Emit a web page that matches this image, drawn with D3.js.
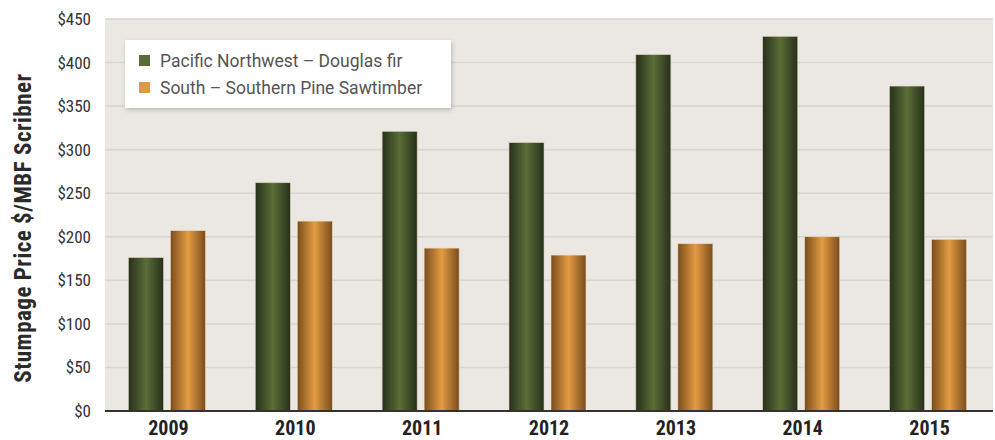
<!DOCTYPE html>
<html><head><meta charset="utf-8">
<script src="https://cdn.jsdelivr.net/npm/d3@7"></script>
<style>
body{margin:0;background:#fff;}
svg{display:block;}
</style></head>
<body>
<svg id="c" width="995" height="440"></svg>
<script>
const years = ["2009","2010","2011","2012","2013","2014","2015"];
const pacificNW = [176, 262, 321, 308, 409, 430, 373];
const southPine = [207, 218, 187, 179, 192, 200, 197];
const seriesNames = ["Pacific Northwest \u2013 Douglas fir", "South \u2013 Southern Pine Sawtimber"];
const yTicks = [0,50,100,150,200,250,300,350,400,450];

const COND = '"Liberation Sans Narrow","Roboto Condensed","DejaVu Sans Condensed",sans-serif';
const svg = d3.select("#c");
const m = {left:105, right:993, top:19, bottom:411};

const defs = svg.append("defs");
function grad(id, edge, mid){
  const g = defs.append("linearGradient").attr("id", id).attr("x1","0").attr("x2","1").attr("y1","0").attr("y2","0");
  g.append("stop").attr("offset","0%").attr("stop-color", edge);
  g.append("stop").attr("offset","50%").attr("stop-color", mid);
  g.append("stop").attr("offset","100%").attr("stop-color", edge);
}
grad("gGreen", "#27301a", "#5c6d36");
grad("gOrange", "#7a4c1c", "#e39c42");
const shadow = defs.append("filter").attr("id","sh").attr("x","-10%").attr("y","-20%").attr("width","130%").attr("height","150%");
shadow.append("feDropShadow").attr("dx",1).attr("dy",2).attr("stdDeviation",2).attr("flood-color","#000").attr("flood-opacity",0.2);

const x = d3.scaleBand().domain(years).range([m.left, m.right]);
const y = d3.scaleLinear().domain([0,450]).range([m.bottom, m.top]);

// panel
svg.append("rect").attr("x", m.left).attr("y", m.top).attr("width", m.right-m.left).attr("height", m.bottom-m.top).attr("fill","#ebe8e3");

// gridlines
svg.append("g").selectAll("line").data(yTicks.filter(d=>d>0)).join("line")
  .attr("x1", m.left).attr("x2", m.right)
  .attr("y1", d=>y(d)).attr("y2", d=>y(d))
  .attr("stroke","#d9d5cf").attr("stroke-width",1.5);

// y axis labels
const yAxis = d3.axisLeft(y).tickValues(yTicks).tickFormat(d=>"$"+d).tickSize(0).tickPadding(14);
const gy = svg.append("g").attr("transform",`translate(${m.left},0)`).call(yAxis);
gy.select(".domain").remove();
gy.attr("font-family", null).attr("font-size", null);
gy.selectAll("text").style("font-size","17px").style("fill","#333").style("font-family",COND);

// bars
const bw = 35, gap = 7;
const groups = svg.append("g").selectAll("g").data(years).join("g");
groups.append("rect")
  .attr("x", (d)=> x(d) + x.bandwidth()/2 - gap/2 - bw - 1.5)
  .attr("y", (d,i)=> y(pacificNW[i]))
  .attr("width", bw).attr("height", (d,i)=> m.bottom - y(pacificNW[i]))
  .attr("fill","url(#gGreen)").attr("stroke","#cfcab8").attr("stroke-width",0.6);
groups.append("rect")
  .attr("x", (d)=> x(d) + x.bandwidth()/2 + gap/2 - 1.5)
  .attr("y", (d,i)=> y(southPine[i]))
  .attr("width", bw).attr("height", (d,i)=> m.bottom - y(southPine[i]))
  .attr("fill","url(#gOrange)").attr("stroke","#e8d8bc").attr("stroke-width",0.6);

// x axis
const xAxis = d3.axisBottom(x).tickSize(0).tickPadding(8);
const gx = svg.append("g").attr("transform",`translate(0,${m.bottom})`).call(xAxis);
gx.select(".domain").attr("stroke","#333").attr("stroke-width",2).attr("d",`M${m.left},0H${m.right}`);
gx.selectAll("text").attr("dy","0.8em")
  .style("font-size","20px").style("font-weight","bold").style("fill","#222").style("font-family",COND);

// y title
svg.append("text").attr("transform",`translate(31,228) rotate(-90)`)
  .attr("text-anchor","middle")
  .style("font-size","23px").style("font-weight","bold").style("fill","#2a2a2a").style("font-family",COND)
  .style("letter-spacing","0.5px")
  .text("Stumpage Price $/MBF Scribner");

// legend
const lg = svg.append("g").attr("transform","translate(125,40)");
lg.append("rect").attr("width",326).attr("height",68).attr("fill","#fff").attr("filter","url(#sh)");
const colors = ["#5a6b34","#dc9a42"];
seriesNames.forEach((n,i)=>{
  lg.append("rect").attr("x",14).attr("y",15+i*27).attr("width",11).attr("height",11).attr("fill",colors[i]);
  lg.append("text").attr("x",35).attr("y",21+i*27).attr("dy","0.36em")
    .style("font-size","17.5px").style("font-weight","400")
    .style("font-family","Roboto, 'Open Sans', sans-serif").style("fill","#555").text(n);
});
</script>
</body></html>
